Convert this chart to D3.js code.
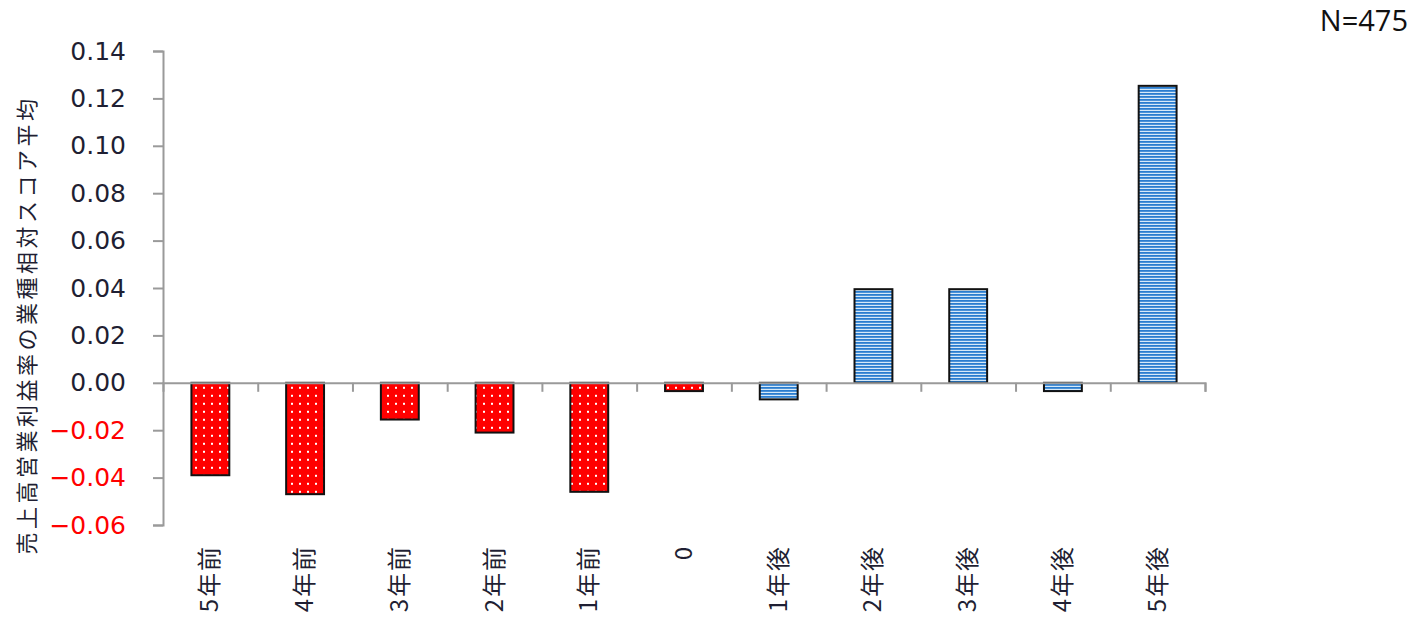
<!DOCTYPE html>
<html>
<head>
<meta charset="utf-8">
<script src="https://cdn.jsdelivr.net/npm/d3@7"></script>
<style>
  html, body { margin: 0; padding: 0; background: #fff; }
  svg { display: block; }
</style>
</head>
<body>
<svg id="chart" width="1415" height="617"></svg>
<script>
// Years relative to the event and the mean industry-relative score of operating margin
const categories = ["5年前", "4年前", "3年前", "2年前", "1年前", "0", "1年後", "2年後", "3年後", "4年後", "5年後"];
const values = [-0.039, -0.047, -0.0155, -0.021, -0.046, -0.0035, -0.007, 0.0395, 0.0395, -0.0035, 0.1253];
// Periods up to and including the event year are "before", the rest "after"
const periods = ["before", "before", "before", "before", "before", "before", "after", "after", "after", "after", "after"];
const yTicks = [-0.06, -0.04, -0.02, 0.00, 0.02, 0.04, 0.06, 0.08, 0.10, 0.12, 0.14];
const yTitle = "売上高営業利益率の業種相対スコア平均";
const sampleNote = "N=475";

const svg = d3.select("#chart");
const plotLeft = 163, plotRight = 1205, plotTop = 51, plotBottom = 525;

const x = d3.scaleBand().domain(categories).range([plotLeft, plotRight]).paddingInner(0.6).paddingOuter(0.3);
const xb = d3.scaleBand().domain(categories).range([plotLeft, plotRight]);
const y = d3.scaleLinear().domain([-0.06, 0.14]).range([plotBottom, plotTop]);

// Fill patterns: white dots on red, blue horizontal stripes
const defs = svg.append("defs");
const dots = defs.append("pattern").attr("id", "dots")
  .attr("patternUnits", "userSpaceOnUse").attr("width", 8).attr("height", 8)
  .attr("x", 0).attr("y", y(0) + 1);
dots.append("rect").attr("width", 8).attr("height", 8).attr("fill", "#ff0000");
dots.append("rect").attr("x", 3).attr("y", 3).attr("width", 2).attr("height", 2).attr("fill", "#ffffff");

const stripes = defs.append("pattern").attr("id", "stripes")
  .attr("patternUnits", "userSpaceOnUse").attr("width", 4).attr("height", 3);
stripes.append("rect").attr("width", 4).attr("height", 3).attr("fill", "#d6e9f8");
stripes.append("rect").attr("y", 0).attr("width", 4).attr("height", 1.8).attr("fill", "#2a7dcf");

// Y axis
const yAxis = svg.append("g").attr("transform", `translate(${plotLeft},0)`)
  .call(d3.axisLeft(y).tickValues(yTicks).tickFormat(d3.format(".2f")).tickSize(10).tickPadding(27));
yAxis.select(".domain").attr("stroke", "#9a9a9a").attr("stroke-width", 2);
yAxis.selectAll(".tick line").attr("stroke", "#9a9a9a").attr("stroke-width", 2);
yAxis.selectAll(".tick text")
  .attr("font-family", "'DejaVu Sans', Verdana, sans-serif")
  .attr("font-size", 25)
  .attr("fill", d => d < 0 ? "#ff0000" : "#1f1f33");

// Bars
svg.append("g").selectAll("rect").data(categories).join("rect")
  .attr("x", (d) => x(d))
  .attr("width", x.bandwidth())
  .attr("y", (d, i) => y(Math.max(0, values[i])))
  .attr("height", (d, i) => Math.abs(y(values[i]) - y(0)))
  .attr("fill", (d, i) => periods[i] === "before" ? "url(#dots)" : "url(#stripes)")
  .attr("stroke", "#111")
  .attr("stroke-width", 2);

// X axis at zero with ticks between categories
const boundaries = categories.map(c => xb(c) + xb.bandwidth());
const xAxisScale = d3.scaleLinear().domain([plotLeft, plotRight]).range([plotLeft, plotRight]);
const xAxis = svg.append("g").attr("transform", `translate(0,${y(0)})`)
  .call(d3.axisBottom(xAxisScale).tickValues(boundaries).tickSize(9).tickFormat(""));
xAxis.select(".domain").attr("stroke", "#9a9a9a").attr("stroke-width", 2);
xAxis.selectAll(".tick line").attr("stroke", "#9a9a9a").attr("stroke-width", 2);

// Category labels, rotated
svg.append("g").selectAll("text").data(categories).join("text")
  .attr("transform", d => `translate(${xb(d) + xb.bandwidth() / 2 + 8},545) rotate(-90)`)
  .attr("text-anchor", "end")
  .attr("font-family", "'Noto Sans CJK JP', sans-serif")
  .attr("font-size", 24)
  .attr("letter-spacing", 2)
  .attr("fill", "#1f1f33")
  .text(d => d);

// Y axis title
svg.append("text")
  .attr("transform", `translate(35,325) rotate(-90)`)
  .attr("text-anchor", "middle")
  .attr("font-family", "'Noto Sans CJK JP', sans-serif")
  .attr("font-size", 22)
  .attr("letter-spacing", 3.5)
  .attr("fill", "#1f1f33")
  .text(yTitle);

// Sample size note
svg.append("text")
  .attr("x", 1408).attr("y", 31)
  .attr("text-anchor", "end")
  .attr("font-family", "'Open Sans', sans-serif")
  .attr("font-size", 29)
  .attr("fill", "#111")
  .text(sampleNote);
</script>
</body>
</html>
